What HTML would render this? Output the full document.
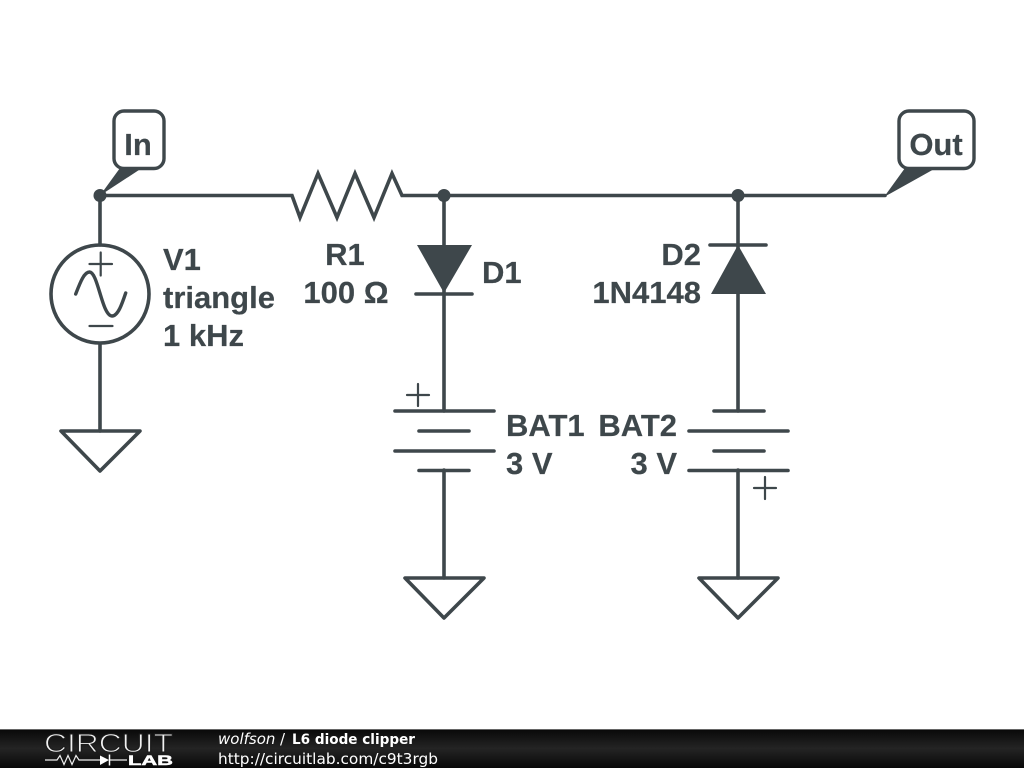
<!DOCTYPE html>
<html><head><meta charset="utf-8"><style>
html,body{margin:0;padding:0;background:#fff;width:1024px;height:768px;overflow:hidden}
svg{display:block}
</style></head><body>
<svg width="1024" height="768" viewBox="0 0 1024 768" xmlns="http://www.w3.org/2000/svg">
<defs><linearGradient id="f" x1="0" y1="0" x2="0" y2="1"><stop offset="0" stop-color="#080808"/><stop offset="0.5" stop-color="#242424"/><stop offset="1" stop-color="#080808"/></linearGradient></defs>
<rect width="1024" height="768" fill="#fff"/>
<g fill="none" stroke="#3e474b" stroke-width="3.6" stroke-linecap="round" stroke-linejoin="miter">
<path d="M100 195.500H292L300 217.500L318 173.500L337 217.500L355 173.500L374 217.500L392 173.500L402 195.500H885"/>
<path d="M100 195.500V245M100 344V431M444 195.500V411M444 470V578M738 195.500V411M738 470V578"/>
<circle cx="100" cy="294" r="49"/>
<path d="M89.500 264H112M100.700 252.500V275.500M89.500 326H112.500" stroke-width="2.200"/>
<path d="M75.700 294C80 283 84 272 89.500 272C98 272 102 316 112 316C118 316 122 304 125.700 293" stroke-width="3.400"/>
<path d="M61 431H140L100 471Z M405 578H484L444 618Z M699 578H778L738 618Z" stroke-linejoin="round"/>
<path d="M395 411H494M419 431H469M395 451H494M419 470.500H469"/>
<path d="M714 411H764M689 431H788M714 451H764M689 470.500H788"/>
<path d="M407 395H429M418 384V406M754 488H776M765 477V499" stroke-width="2.200"/>
<path d="M416 294H472M710 245H766"/>
<rect x="114" y="111" width="50" height="57.500" rx="10" ry="10" stroke-width="3.400"/>
<rect x="899" y="111" width="75" height="57.500" rx="10" ry="10" stroke-width="3.400"/>
</g>
<g fill="#3e474b">
<circle cx="100" cy="195.500" r="6.500"/><circle cx="444" cy="195.500" r="6.500"/><circle cx="738" cy="195.500" r="6.500"/>
<path d="M417 245H472L444 293Z"/>
<path d="M738 245L711 294H766Z"/>
<path d="M100 195.500L120 168H142Z"/>
<path d="M884 197L905 168H936Z"/>
</g>
<g font-family="'Liberation Sans',sans-serif" font-weight="700" font-size="31" fill="#3e474b" stroke="#3e474b" stroke-width="0.200">
<text x="138" y="155" text-anchor="middle">In</text>
<text x="936" y="155" text-anchor="middle">Out</text>
<text x="163" y="270">V1</text>
<text x="163" y="308">triangle</text>
<text x="163" y="346">1 kHz</text>
<text x="345" y="265" text-anchor="middle">R1</text>
<text x="346" y="303" text-anchor="middle">100 Ω</text>
<text x="482" y="283">D1</text>
<text x="701" y="265" text-anchor="end">D2</text>
<text x="701" y="303" text-anchor="end">1N4148</text>
<text x="506" y="436">BAT1</text>
<text x="506" y="474">3 V</text>
<text x="677" y="436" text-anchor="end">BAT2</text>
<text x="677" y="474" text-anchor="end">3 V</text>
</g>
<rect x="0" y="729" width="1024" height="39" fill="url(#f)"/>
<rect x="0" y="729" width="1024" height="1" fill="#666"/>
<text x="44" y="752" font-family="'Liberation Sans',sans-serif" font-size="26" fill="#f2f2f2" stroke="#1c1c1c" stroke-width="1" textLength="129" lengthAdjust="spacingAndGlyphs">CIRCUIT</text>
<text x="128" y="765" font-family="'Liberation Sans',sans-serif" font-weight="700" font-size="14" fill="#fff" stroke="#fff" stroke-width="0.500" textLength="45" lengthAdjust="spacingAndGlyphs">LAB</text>
<path d="M45 760H57L60 755.500L64 764.500L68 755.500L72 764.500L76 755.500L79 760H100M110 760H127" fill="none" stroke="#eee" stroke-width="1.200"/>
<path d="M100 755.500V765L109 760Z" fill="#fff"/><path d="M109.500 754.500V765.500" stroke="#fff" stroke-width="1.500"/>
<g font-family="'DejaVu Sans',sans-serif" font-size="15" fill="#fff">
<text x="218" y="744" font-style="italic">wolfson</text>
<text x="280" y="744">/</text>
<text x="292" y="744" font-weight="700" font-size="14.500" textLength="123" lengthAdjust="spacingAndGlyphs">L6 diode clipper</text>
<text x="218" y="764" textLength="220" lengthAdjust="spacingAndGlyphs">http://circuitlab.com/c9t3rgb</text>
</g>
</svg>
</body></html>
